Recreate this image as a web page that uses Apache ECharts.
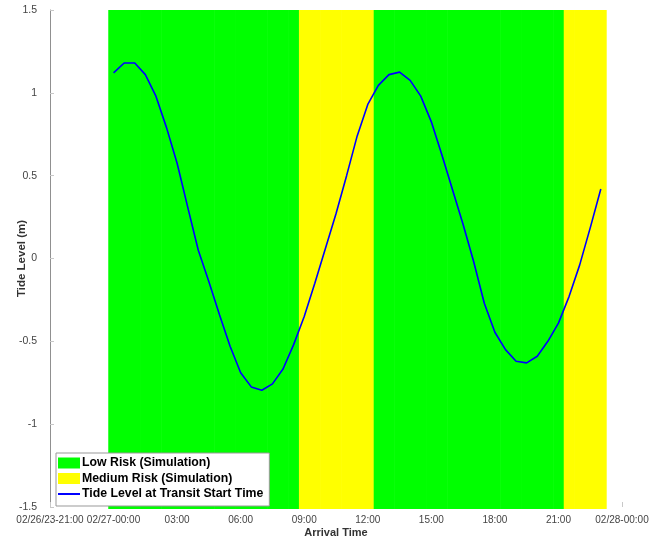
<!DOCTYPE html>
<html>
<head>
<meta charset="utf-8">
<script src="https://cdn.jsdelivr.net/npm/echarts@6/dist/echarts.min.js"></script>
<style>
html, body { margin: 0; padding: 0; background: #fff; }
#main { width: 659px; height: 540px; }
</style>
</head>
<body>
<div id="main"></div>
<script>
// hours after 02/27-00:00, one sample every 30 min
var hours = [0, 0.5, 1, 1.5, 2, 2.5, 3, 3.5, 4, 4.5, 5, 5.5, 6, 6.5, 7, 7.5, 8, 8.5,
    9, 9.5, 10, 10.5, 11, 11.5, 12, 12.5, 13, 13.5, 14, 14.5, 15, 15.5, 16, 16.5, 17, 17.5,
    18, 18.5, 19, 19.5, 20, 20.5, 21, 21.5, 22, 22.5, 23];
var tide = [1.12, 1.18, 1.18, 1.11, 0.98, 0.79, 0.575, 0.31, 0.05, -0.14, -0.34, -0.53, -0.69,
    -0.775, -0.795, -0.757, -0.667, -0.52, -0.35, -0.15, 0.06, 0.27, 0.50, 0.74, 0.93,
    1.045, 1.11, 1.125, 1.075, 0.98, 0.825, 0.625, 0.415, 0.205, -0.02, -0.27, -0.445,
    -0.55, -0.62, -0.63, -0.59, -0.50, -0.39, -0.23, -0.04, 0.185, 0.42];
// 0 = low risk, 1 = medium risk
var risk = [0, 0, 0, 0, 0, 0, 0, 0, 0, 0, 0, 0, 0, 0, 0, 0, 0, 0,
    1, 1, 1, 1, 1, 1, 1,
    0, 0, 0, 0, 0, 0, 0, 0, 0, 0, 0, 0, 0, 0, 0, 0, 0, 0,
    1, 1, 1, 1];
var riskNames = ['Low Risk (Simulation)', 'Medium Risk (Simulation)'];
var riskColors = ['#00ff00', '#ffff00'];
var lineName = 'Tide Level at Transit Start Time';
var yTicks = [-1.5, -1, -0.5, 0, 0.5, 1, 1.5];

var myChart = echarts.init(document.getElementById('main'));

function patchSeries(level) {
    var data = [];
    for (var i = 0; i < hours.length; i++) {
        if (risk[i] === level) data.push([hours[i]]);
    }
    return {
        name: riskNames[level],
        type: 'custom',
        itemStyle: {color: riskColors[level]},
        data: data,
        renderItem: function (params, api) {
            var t = api.value(0);
            var p0 = api.coord([t - 0.25, yTicks[yTicks.length - 1]]);
            var p1 = api.coord([t + 0.25, yTicks[0]]);
            return {
                type: 'rect',
                shape: {x: p0[0], y: p0[1], width: p1[0] - p0[0] + 0.6, height: p1[1] - p0[1] + 2},
                style: {fill: riskColors[level]}
            };
        }
    };
}

function xLabel(v) {
    if (v === -3) return '02/26/23-21:00';
    if (v === 0) return '02/27-00:00';
    if (v === 24) return '02/28-00:00';
    var h = v < 0 ? v + 24 : v;
    return (h < 10 ? '0' : '') + h + ':00';
}

var lineData = [];
for (var i = 0; i < hours.length; i++) lineData.push([hours[i], tide[i]]);

var option = {
    animation: false,
    textStyle: {fontFamily: 'Liberation Sans, Arial, sans-serif'},
    grid: {left: 50, top: 10, right: 37, bottom: 33, outerBoundsMode: 'none', containLabel: false},
    legend: {
        orient: 'vertical',
        left: 56,
        top: 453,
        padding: [4, 6, 6, 2],
        itemGap: 3.5,
        itemWidth: 22,
        itemHeight: 11,
        backgroundColor: '#fff',
        borderColor: '#999',
        borderWidth: 1,
        textStyle: {fontSize: 12.3, fontWeight: 'bold', color: '#000', padding: [0, 0, 0, -3]},
        data: [
            {name: riskNames[0], icon: 'rect'},
            {name: riskNames[1], icon: 'rect'},
            {name: lineName, icon: 'path://M0,4.5 L22,4.5 L22,6.5 L0,6.5 Z'}
        ]
    },
    xAxis: {
        type: 'value',
        min: -3,
        max: 24,
        interval: 3,
        name: 'Arrival Time',
        nameLocation: 'middle',
        nameGap: 20,
        nameMoveOverlap: false,
        nameTextStyle: {fontSize: 11, fontWeight: 'bold', color: '#333'},
        axisLine: {show: false, onZero: false},
        axisTick: {show: true, inside: true, length: 5, lineStyle: {color: '#c8c8c8'}},
        splitLine: {show: false},
        axisLabel: {fontSize: 10, color: '#444', margin: 8, formatter: xLabel, showMinLabel: true, showMaxLabel: true}
    },
    yAxis: {
        type: 'value',
        min: -1.5,
        max: 1.5,
        interval: 0.5,
        name: 'Tide Level (m)',
        nameLocation: 'middle',
        nameGap: 22,
        nameMoveOverlap: false,
        nameTextStyle: {fontSize: 11.5, fontWeight: 'bold', color: '#333'},
        axisLine: {show: true, onZero: false, lineStyle: {color: '#909090'}},
        axisTick: {show: true, inside: true, length: 4, lineStyle: {color: '#c8c8c8'}},
        splitLine: {show: false},
        axisLabel: {fontSize: 10.5, color: '#444', margin: 13}
    },
    series: [
        patchSeries(0),
        patchSeries(1),
        {
            name: lineName,
            type: 'line',
            data: lineData,
            showSymbol: false,
            z: 5,
            itemStyle: {color: '#0000ff'},
            lineStyle: {color: '#0000ff', width: 1.6}
        }
    ]
};
myChart.setOption(option);
</script>
</body>
</html>
